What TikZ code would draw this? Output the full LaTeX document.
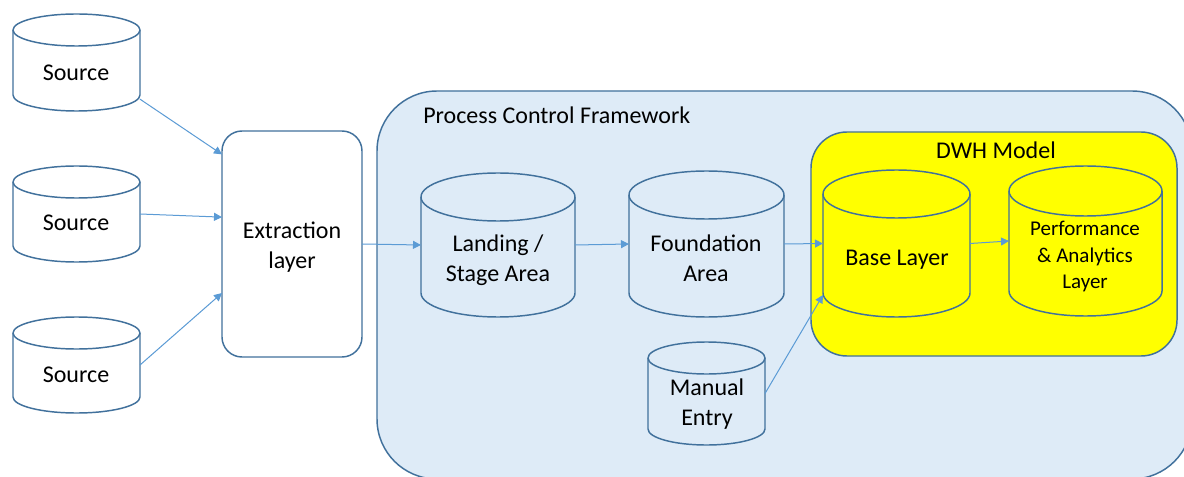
\documentclass[tikz,border=0pt]{standalone}
\usepackage{fontspec}
\setmainfont{Carlito}
\usetikzlibrary{arrows.meta}

\definecolor{edgeblue}{RGB}{65,113,156}
\definecolor{flowblue}{RGB}{91,155,213}
\definecolor{pcfblue}{RGB}{222,235,247}
\definecolor{dwhyellow}{RGB}{255,255,0}

\tikzset{
  x=0.75pt, y=-0.75pt,
  outline/.style={draw=edgeblue, line width=1.1pt},
  body/.style={shape=rectangle, draw=none, inner sep=0pt, outer sep=0pt},
  lbl/.style={inner sep=0pt, align=center, font=\fontsize{18}{22.5}\selectfont},
  smalllbl/.style={inner sep=0pt, align=center, font=\fontsize{15.75}{20}\selectfont},
  flow/.style={draw=flowblue, line width=0.75pt,
    -{Triangle[length=6pt, width=6pt, fill=flowblue]}, shorten >=0pt},
}

% database drum: name, left, top, right, bottom, ellipse half-height, fill
\newcommand\dbdrum[7]{%
  \filldraw[outline, fill=#7] (#2,#3+#6) -- (#2,#5-#6)
    arc[start angle=180, end angle=0, x radius={(#4-#2)/2}, y radius=#6]
    -- (#4,#3+#6)
    arc[start angle=0, end angle=-180, x radius={(#4-#2)/2}, y radius=#6] -- cycle;
  \draw[outline] (#2,#3+#6)
    arc[start angle=180, end angle=0, x radius={(#4-#2)/2}, y radius=#6];
  \node[body, minimum width={(#4-#2)*0.75pt}, minimum height={(#5-#3)*0.75pt}]
    (#1) at ({(#2+#4)/2},{(#3+#5)/2}) {};
}

\begin{document}
\begin{tikzpicture}
\useasboundingbox (0,0) rectangle (1184,477);
\clip (0,0) rectangle (1184,477);
\fill[white] (0,0) rectangle (1184,477);

% process control framework
\node[body, outline, fill=pcfblue, rounded corners=45pt,
      minimum width={(1192-377)*0.75pt}, minimum height={(479-91)*0.75pt}]
  (pcf) at ({(377+1192)/2},{(91+479)/2}) {};
\node[lbl, anchor=west] (pcf-t) at (423,115.5) {Process Control Framework};

% DWH model
\node[body, outline, fill=dwhyellow, rounded corners=27pt,
      minimum width={(1177-811)*0.75pt}, minimum height={(356-132)*0.75pt}]
  (dwh) at ({(811+1177)/2},{(132+356)/2}) {};
\node[lbl] (dwh-t) at (996,150.5) {DWH Model};

% sources
\dbdrum{src1}{13}{14}{140}{111}{16}{white}
\dbdrum{src2}{13}{166}{140}{262}{16}{white}
\dbdrum{src3}{13}{317}{140}{413}{16}{white}
\node[lbl] (src1-t) at (76,72.5) {Source};
\node[lbl] (src2-t) at (76,223) {Source};
\node[lbl] (src3-t) at (76,374.5) {Source};

% extraction layer
\node[body, outline, fill=white, rounded corners=15pt,
      minimum width={(362-222)*0.75pt}, minimum height={(357-131)*0.75pt}]
  (extract) at (292,244) {};
\node[lbl] (extract-t) at (292,247) {Extraction\\layer};

% stores
\dbdrum{landing}{421}{173}{575}{317}{24}{pcfblue}
\dbdrum{found}{629}{171}{784}{317}{24}{pcfblue}
\dbdrum{manual}{648}{342}{765}{445}{16}{pcfblue}
\dbdrum{base}{823}{170}{970}{317}{24}{dwhyellow}
\dbdrum{perf}{1009}{166}{1162}{316}{25}{dwhyellow}
\node[lbl] (landing-t) at (498,260) {Landing /\\Stage Area};
\node[lbl] (found-t) at (706,258) {Foundation\\Area};
\node[lbl] (manual-t) at (707,404.5) {Manual\\Entry};
\node[lbl] (base-t) at (897,259.5) {Base Layer};
\node[smalllbl] (perf-t) at (1085,256.5) {Performance\\\& Analytics\\Layer};

% data flow
\draw[flow] (src1.-30.6) -- (extract.128.6);
\draw[flow] (src2.east) -- (extract.159.9);
\draw[flow] (src3.east) -- (extract.215.7);
\draw[flow] (extract.east) -- (landing.west);
\draw[flow] (landing.east) -- (found.west);
\draw[flow] (found.east) -- (base.west);
\draw[flow] (base.east) -- (perf.west);
\draw[flow] (manual.east) -- (base.215.5);
\end{tikzpicture}
\end{document}
